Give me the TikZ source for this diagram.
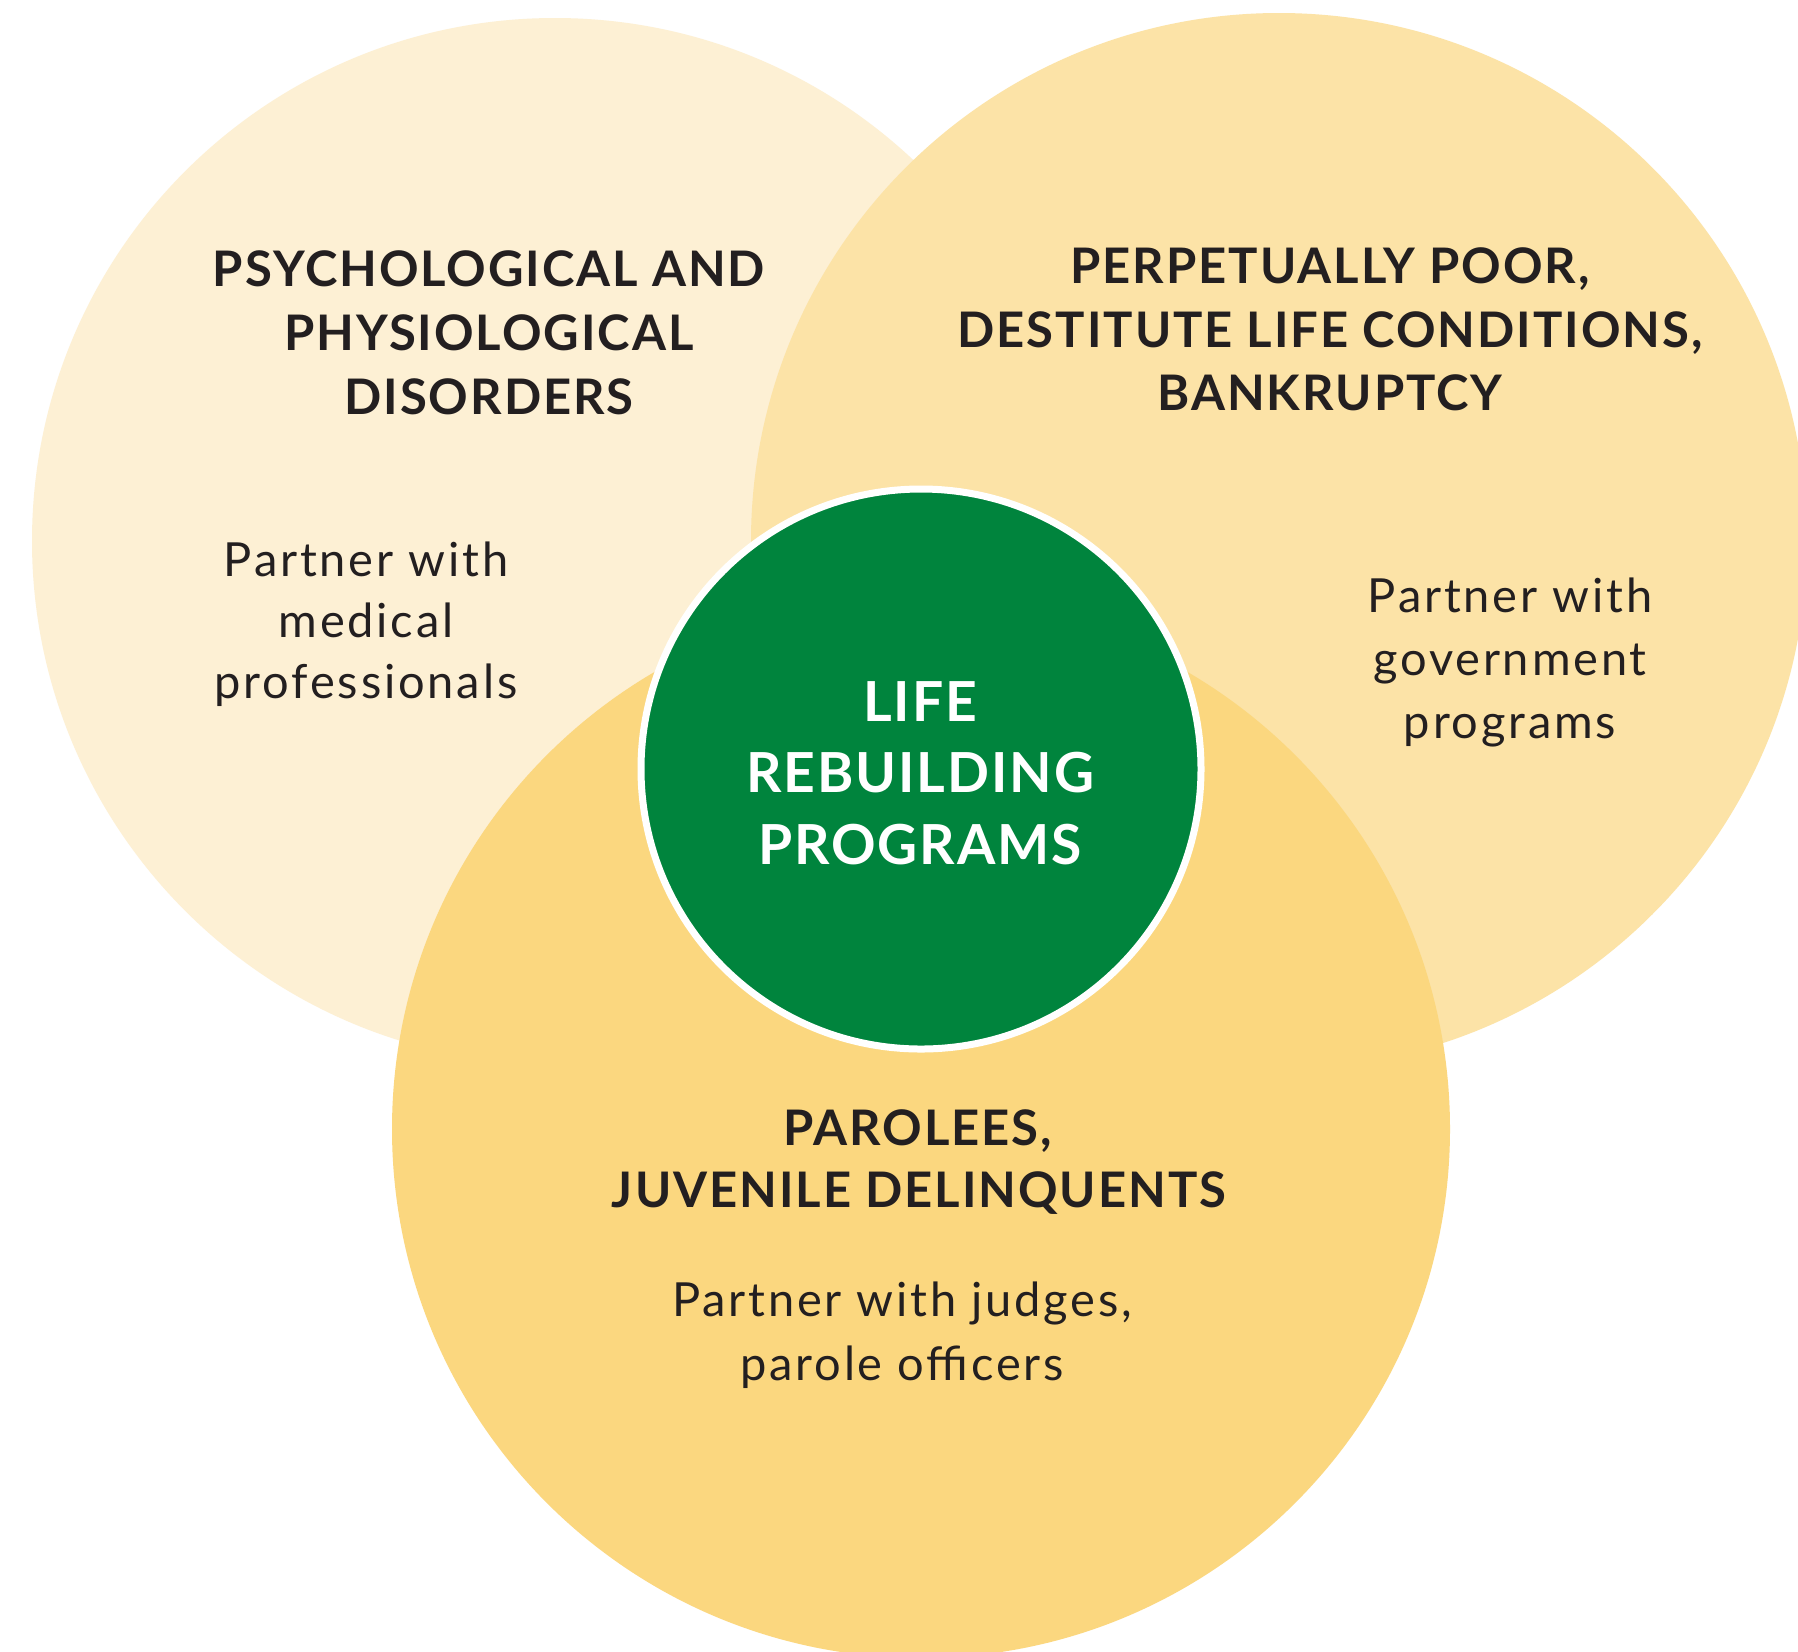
\documentclass[tikz,border=0pt]{standalone}
\usepackage{fontspec}
\setmainfont{Lato}
\newfontfamily\headfont[LetterSpace=4]{Lato}
\newfontfamily\bodyfont[LetterSpace=6]{Lato}
\newfontfamily\corefont[LetterSpace=3.5]{Lato}
\definecolor{cleft}{HTML}{FDF0D4}
\definecolor{cright}{HTML}{FCE3A7}
\definecolor{cbottom}{HTML}{FBD77F}
\definecolor{cgreen}{HTML}{00843D}
\definecolor{ink}{HTML}{231F20}
\begin{document}
\begin{tikzpicture}[x=0.5pt,y=-0.5pt,
  bigcircle/.style={circle, inner sep=0pt, draw=none},
  head/.style={font=\headfont\bfseries\fontsize{24.5}{30}\selectfont, text=ink, anchor=base, inner sep=0pt},
  body/.style={font=\bodyfont\fontsize{23.5}{28}\selectfont, text=ink, anchor=base, inner sep=0pt},
  core/.style={font=\corefont\bfseries\fontsize{27.6}{32}\selectfont, text=white, anchor=base, inner sep=0pt}]
\clip (0,0) rectangle (1798,1651);
\fill[white] (0,0) rectangle (1798,1651);
\node[bigcircle, fill=cleft, minimum size=523pt] (cl) at (555,541) {};
\node[bigcircle, fill=cright, minimum size=528pt] (cr) at (1279,541) {};
\node[bigcircle, fill=cbottom, minimum size=529pt] (cb) at (921,1129) {};
\node[circle, inner sep=0pt, fill=cgreen, draw=white, line width=3.5pt, minimum size=280pt] (cg) at (921,769) {};
% left circle texts
\node[head] (lh1) at (489,286.7) {PSYCHOLOGICAL AND};
\node[head] (lh2) at (489,350.7) {PHYSIOLOGICAL};
\node[head] (lh3) at (489,414.3) {DISORDERS};
\node[body] (lb1) at (366,576) {Partner with};
\node[body] (lb2) at (366,637) {medical};
\node[body] (lb3) at (366,698) {professionals};
% right circle texts
\node[head] (rh1) at (1330,283.5) {PERPETUALLY POOR,};
\node[head] (rh2) at (1330,347) {DESTITUTE LIFE CONDITIONS,};
\node[head] (rh3) at (1330,410) {BANKRUPTCY};
\node[body] (rb1) at (1510,612.7) {Partner with};
\node[body] (rb2) at (1510,675) {government};
\node[body] (rb3) at (1510,738) {programs};
% centre
\node[core] (g1) at (920,721) {LIFE};
\node[core] (g2) at (920,792.5) {REBUILDING};
\node[core] (g3) at (920,864) {PROGRAMS};
% bottom circle texts
\node[head] (bh1) at (918,1145) {PAROLEES,};
\node[head] (bh2) at (919,1207) {JUVENILE DELINQUENTS};
\node[body] (bb1) at (902,1316) {Partner with judges,};
\node[body] (bb2) at (902,1380) {parole officers};
\end{tikzpicture}
\end{document}
